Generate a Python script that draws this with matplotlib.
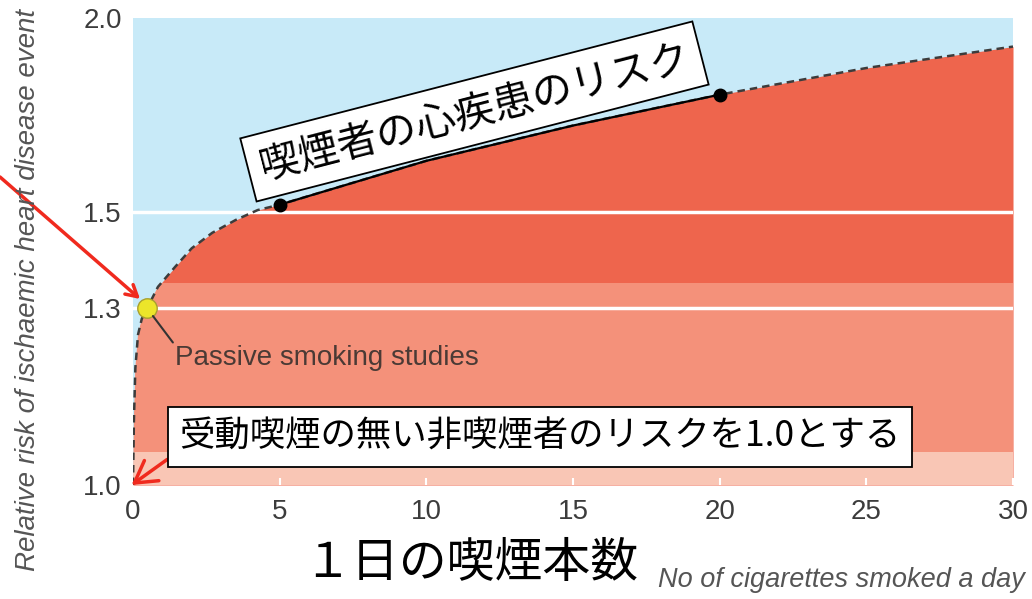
import numpy as np
import matplotlib
matplotlib.use('Agg')
import matplotlib.pyplot as plt
from matplotlib.ticker import NullLocator, NullFormatter

# --- data ---
cigs = [0, 0.03, 0.08, 0.17, 0.3, 0.48, 0.85, 1.43, 2.0, 2.7, 3.5, 4.25, 5, 10, 15, 20, 25, 30]
risk = [1.0, 1.10, 1.19, 1.25, 1.28, 1.30, 1.342, 1.382, 1.421, 1.454, 1.482, 1.504, 1.516,
        1.618, 1.705, 1.785, 1.857, 1.917]
smoker_x = [5, 20]
smoker_y = [1.516, 1.785]
passive_x = 0.48
passive_y = 1.30
band_edges = [1.0, 1.05, 1.35]
grid_lines = [1.3, 1.5]
yticks = [1.0, 1.3, 1.5, 2.0]
ytick_labels = ['1.0', '1.3', '1.5', '2.0']
xticks = [0, 5, 10, 15, 20, 25, 30]

narrow = ['Liberation Sans', 'DejaVu Sans']
jp = ['Noto Sans CJK JP', 'DejaVu Sans']
plt.rcParams['font.family'] = narrow

blue = '#c8eaf8'
dark_red = '#ee654d'
mid_red = '#f4917a'
light_red = '#f9c6b5'
gray = '#3c3c3c'
red = '#f02a1e'

fig = plt.figure(figsize=(10.32, 5.99), dpi=100)
ax = fig.add_axes([0.1289, 0.1903, 0.8527, 0.7796])
ax.set_facecolor(blue)
ax.set_yscale('log')
ax.set_xlim(0, 30)
ax.set_ylim(1.0, 2.0)

poly = ax.fill_between(cigs, risk, 1.0, color=dark_red, lw=0, zorder=1)
clip = poly.get_paths()[0]
for lo, hi, c in [(band_edges[0], band_edges[1], light_red), (band_edges[1], band_edges[2], mid_red)]:
    span = ax.axhspan(lo, hi, color=c, lw=0, zorder=1.1)
    span.set_clip_path(clip, ax.transData)

for g in grid_lines:
    ax.axhline(g, color='white', lw=2.5, zorder=2)

ax.plot(cigs, risk, color='#3c3c3c', lw=1.8, ls=(0, (3, 2)), zorder=3)
seg = [(x, y) for x, y in zip(cigs, risk) if 5 <= x <= 20]
ax.plot([p[0] for p in seg], [p[1] for p in seg], color='black', lw=1.6, zorder=3.1)
ax.plot(smoker_x, smoker_y, 'o', color='black', ms=9, zorder=4)
ax.plot([passive_x], [passive_y], 'o', color='#ece52a', mec='#a8a030', mew=1, ms=14, zorder=4,
        clip_on=False)

for s in ax.spines.values():
    s.set_visible(False)
ax.set_yticks(yticks)
ax.set_yticklabels(ytick_labels)
ax.yaxis.set_minor_locator(NullLocator())
ax.yaxis.set_minor_formatter(NullFormatter())
ax.set_xticks(xticks)
ax.tick_params(axis='y', length=0, pad=8, labelsize=20, labelcolor=gray)
ax.tick_params(axis='x', direction='in', length=5, width=1.5, color='white',
               pad=10, labelsize=20, labelcolor=gray)

# smoker risk box
ax.text(11.64, 1.741, '喫煙者の心疾患のリスク', family=jp, fontsize=29, rotation=14.5,
        ha='center', va='center', rotation_mode='anchor', zorder=5,
        bbox=dict(boxstyle='square,pad=0.3', fc='white', ec='black', lw=1.3))

# non smoker box with arrow to 1.0
ax.annotate('受動喫煙の無い非喫煙者のリスクを1.0とする', xy=(-0.05, 1.0), xytext=(13.88, 1.074),
            family=jp, fontsize=25.5, ha='center', va='center', zorder=5, annotation_clip=False,
            bbox=dict(boxstyle='square,pad=0.33', fc='white', ec='black', lw=1.3),
            arrowprops=dict(arrowstyle='->,head_length=0.6,head_width=0.35', color=red, lw=2.5,
                            relpos=(0, 0.12), shrinkA=0, shrinkB=0))

# passive smoking label
ax.annotate('Passive smoking studies', xy=(passive_x, passive_y), xytext=(1.43, 1.207),
            fontsize=20, color='#4a3a35', ha='left', va='center', zorder=5,
            arrowprops=dict(arrowstyle='-', color='#333333', lw=1.5, relpos=(0, 1),
                            shrinkA=0, shrinkB=7))

# big red arrow coming from the left edge
ax.annotate('', xy=(0.24, 1.318), xytext=(0, 599 - 177), textcoords='figure pixels',
            annotation_clip=False, zorder=6,
            arrowprops=dict(arrowstyle='->,head_length=0.8,head_width=0.45', color=red, lw=2.5,
                            shrinkA=0, shrinkB=0))

fig.text(28 / 1032, 1 - 290 / 599, 'Relative risk of ischaemic heart disease event',
         rotation=90, ha='center', va='center', style='italic', fontsize=20, color='#555555')
fig.text(471 / 1032, 1 - 563 / 599, '１日の喫煙本数', family=jp, fontsize=34.5,
         ha='center', va='center', color='black')
fig.text(1025 / 1032, 1 - 580 / 599, 'No of cigarettes smoked a day', style='italic',
         fontsize=19.5, ha='right', va='center', color='#555555')

fig.savefig('out.png', dpi=100)
